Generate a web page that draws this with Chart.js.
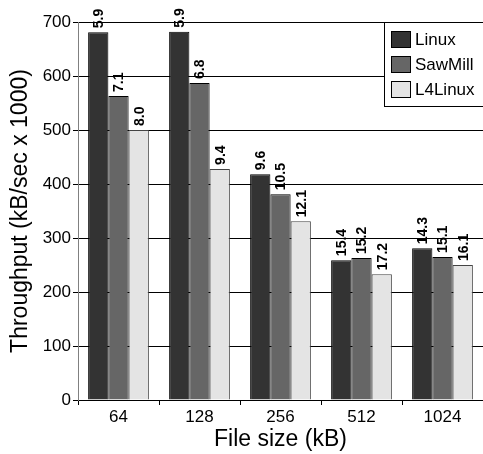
<!DOCTYPE html>
<html>
<head>
<meta charset="utf-8">
<script src="https://cdn.jsdelivr.net/npm/chart.js@4/dist/chart.umd.min.js"></script>
<style>
  html, body { margin: 0; padding: 0; background: #fff; }
  #wrap { width: 483px; height: 454px; }
</style>
</head>
<body>
<div id="wrap"><canvas id="myChart"></canvas></div>
<script>
var fileSizes = ["64", "128", "256", "512", "1024"]
var linux = [681, 682, 418, 259, 281]
var sawmill = [563, 587, 381, 263, 265]
var l4linux = [500, 428, 331, 233, 250]
var linuxLabels = ["5.9", "5.9", "9.6", "15.4", "14.3"]
var sawmillLabels = ["7.1", "6.8", "10.5", "15.2", "15.1"]
var l4linuxLabels = ["8.0", "9.4", "12.1", "17.2", "16.1"]
var yTicks = [0, 100, 200, 300, 400, 500, 600, 700]

var font = "'Liberation Sans', Arial, sans-serif"

// value labels drawn rotated above each bar
var barLabels = {
    id: 'barLabels',
    afterDatasetsDraw: function(chart){
        var ctx = chart.ctx
        ctx.save()
        ctx.font = "bold 14px " + font
        ctx.fillStyle = "#000"
        ctx.textAlign = "left"
        ctx.textBaseline = "middle"
        chart.data.datasets.forEach(function(ds, i){
            var meta = chart.getDatasetMeta(i)
            meta.data.forEach(function(bar, j){
                ctx.save()
                ctx.translate(bar.x + 1, bar.y - 4)
                ctx.rotate(-Math.PI / 2)
                ctx.fillText(ds.valueLabels[j], 0, 0)
                ctx.restore()
            })
        })
        ctx.restore()
    }
}

// boxed legend in the top right corner of the plot
var boxLegend = {
    id: 'boxLegend',
    afterDraw: function(chart){
        var ctx = chart.ctx
        var a = chart.chartArea
        var x0 = 384, y0 = Math.round(a.top)
        ctx.save()
        ctx.fillStyle = "#fff"
        ctx.fillRect(x0, y0, 110, 84)
        ctx.strokeStyle = "#000"
        ctx.lineWidth = 1
        ctx.strokeRect(x0 + 0.5, y0 + 0.5, 110, 84)
        ctx.font = "17px " + font
        ctx.textBaseline = "middle"
        chart.data.datasets.forEach(function(ds, i){
            var sy = y0 + 9 + i * 25
            ctx.fillStyle = ds.backgroundColor
            ctx.fillRect(x0 + 7, sy, 20, 17)
            ctx.strokeStyle = "#000"
            ctx.strokeRect(x0 + 7.5, sy + 0.5, 19, 16)
            ctx.fillStyle = "#000"
            ctx.fillText(ds.label, x0 + 31, sy + 9)
        })
        ctx.restore()
    }
}

var myChart = document.getElementById("myChart").getContext('2d')
var chart = new Chart(myChart, {
    type: 'bar',
    data: {
        labels: fileSizes,
        datasets: [
            {
                label: "Linux",
                data: linux,
                valueLabels: linuxLabels,
                backgroundColor: "#333333",
                borderColor: "#000",
                borderWidth: 1
            },
            {
                label: "SawMill",
                data: sawmill,
                valueLabels: sawmillLabels,
                backgroundColor: "#666666",
                borderColor: "#000",
                borderWidth: 1
            },
            {
                label: "L4Linux",
                data: l4linux,
                valueLabels: l4linuxLabels,
                backgroundColor: "#e4e4e4",
                borderColor: "#444",
                borderWidth: 1
            }
        ]
    },
    plugins: [barLabels, boxLegend],
    options: {
        responsive: true,
        maintainAspectRatio: false,
        animation: false,
        layout: { padding: { top: 22, right: 0, left: 0, bottom: 0 } },
        plugins: {
            legend: { display: false },
            tooltip: { enabled: false }
        },
        datasets: {
            bar: { categoryPercentage: 0.75, barPercentage: 1.0 }
        },
        scales: {
            x: {
                afterFit: function(s){ s.height = 54 },
                grid: { offset: true, drawOnChartArea: false, drawTicks: true, tickLength: 5, color: "#000" },
                border: { color: "#000", width: 1 },
                ticks: { color: "#000", font: { family: font, size: 17 }, padding: 2 },
                title: { display: true, text: "File size (kB)", color: "#000", font: { family: font, size: 23 }, padding: { top: 0, bottom: 1 } }
            },
            y: {
                min: 0,
                max: 700,
                afterFit: function(s){ s.width = 78 },
                afterBuildTicks: function(s){ s.ticks = yTicks.map(function(v){ return { value: v } }) },
                grid: { color: "#000", lineWidth: 1, tickLength: 5 },
                border: { color: "#808080", width: 1 },
                ticks: { color: "#000", font: { family: font, size: 17 }, padding: 2 },
                title: { display: true, text: "Throughput (kB/sec x 1000)", color: "#000", font: { family: font, size: 23 }, padding: { top: 7, bottom: 0 } }
            }
        }
    }
})
</script>
</body>
</html>
